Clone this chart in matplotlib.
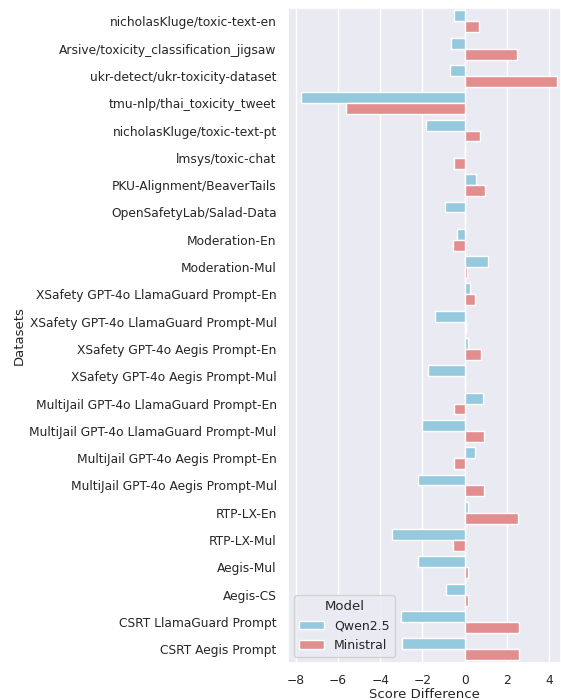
import matplotlib
matplotlib.use("Agg")
import matplotlib.pyplot as plt
import seaborn as sns
import pandas as pd

datasets = [
    "nicholasKluge/toxic-text-en",
    "Arsive/toxicity_classification_jigsaw",
    "ukr-detect/ukr-toxicity-dataset",
    "tmu-nlp/thai_toxicity_tweet",
    "nicholasKluge/toxic-text-pt",
    "lmsys/toxic-chat",
    "PKU-Alignment/BeaverTails",
    "OpenSafetyLab/Salad-Data",
    "Moderation-En",
    "Moderation-Mul",
    "XSafety GPT-4o LlamaGuard Prompt-En",
    "XSafety GPT-4o LlamaGuard Prompt-Mul",
    "XSafety GPT-4o Aegis Prompt-En",
    "XSafety GPT-4o Aegis Prompt-Mul",
    "MultiJail GPT-4o LlamaGuard Prompt-En",
    "MultiJail GPT-4o LlamaGuard Prompt-Mul",
    "MultiJail GPT-4o Aegis Prompt-En",
    "MultiJail GPT-4o Aegis Prompt-Mul",
    "RTP-LX-En",
    "RTP-LX-Mul",
    "Aegis-Mul",
    "Aegis-CS",
    "CSRT LlamaGuard Prompt",
    "CSRT Aegis Prompt",
]

qwen = [-0.52, -0.63, -0.71, -7.75, -1.83, 0.0, 0.55, -0.93,
        -0.35, 1.12, 0.25, -1.43, 0.15, -1.76, 0.87, -2.0,
        0.5, -2.19, 0.16, -3.42, -2.19, -0.91, -3.01, -2.99]
ministral = [0.68, 2.46, 4.38, -5.61, 0.72, -0.5, 0.96, 0.0,
             -0.58, 0.09, 0.46, 0.08, 0.77, 0.02, -0.49, 0.9,
             -0.49, 0.93, 2.52, -0.54, 0.16, 0.16, 2.57, 2.57]

df = pd.DataFrame({
    "Datasets": datasets * 2,
    "Score Difference": qwen + ministral,
    "Model": ["Qwen2.5"] * len(datasets) + ["Ministral"] * len(datasets),
})

sns.set_theme(style="darkgrid")

fig = plt.figure(figsize=(5.61, 7.0), dpi=100)
ax = fig.add_axes([0.513, 0.053, 0.487, 0.936])
sns.barplot(data=df, y="Datasets", x="Score Difference", hue="Model",
            palette=["skyblue", "lightcoral"], ax=ax)

ax.set_xlim(-8.37, 4.55)
ax.tick_params(axis="both", labelsize=8.8, pad=2)
ax.set_xlabel("Score Difference", fontsize=9.5, labelpad=1)
ax.set_ylabel("Datasets", fontsize=9.5, labelpad=3)
leg = ax.legend(title="Model", loc="lower left", fontsize=9, title_fontsize=9.5)

fig.savefig("out.png", dpi=100)
